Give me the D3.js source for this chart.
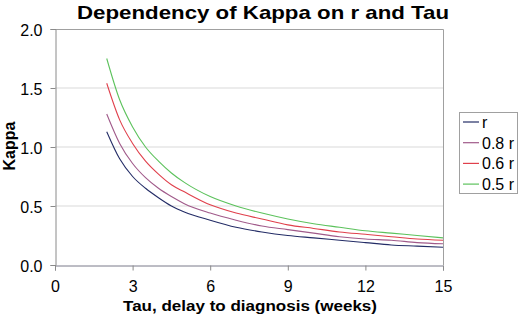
<!DOCTYPE html>
<html>
<head>
<meta charset="utf-8">
<script src="https://cdn.jsdelivr.net/npm/d3@7"></script>
<style>
  body { margin: 0; background: #fff; }
  text { font-family: "Liberation Sans", Arial, sans-serif; }
</style>
</head>
<body>
<div id="container"></div>
<script>
/* CONSTANTS AND GLOBALS */
const width = 518,
  height = 315,
  margin = { top: 29, bottom: 50, left: 55, right: 75 }

/* DATA */
const tau = [2, 2.5, 3, 3.5, 4, 4.5, 5, 6, 7, 8, 9, 10, 11, 12, 13, 14, 15]
const kappaR = [1.13, 0.90, 0.75, 0.65, 0.57, 0.50, 0.45, 0.38, 0.32, 0.28, 0.25, 0.23, 0.21, 0.19, 0.17, 0.16, 0.15]
const kappa08 = [1.28, 1.03, 0.86, 0.74, 0.65, 0.58, 0.52, 0.44, 0.38, 0.33, 0.30, 0.27, 0.24, 0.22, 0.21, 0.19, 0.18]
const kappa06 = [1.54, 1.23, 1.03, 0.88, 0.77, 0.68, 0.62, 0.51, 0.44, 0.39, 0.34, 0.31, 0.28, 0.26, 0.24, 0.22, 0.21]
const kappa05 = [1.75, 1.40, 1.17, 1.00, 0.88, 0.78, 0.70, 0.58, 0.50, 0.44, 0.39, 0.35, 0.32, 0.29, 0.27, 0.25, 0.23]
const seriesNames = ["r", "0.8 r", "0.6 r", "0.5 r"]
const xTicks = [0, 3, 6, 9, 12, 15]
const yTicks = [0, 0.5, 1.0, 1.5, 2.0]

const colors = ["#232c66", "#a05a8a", "#e0404c", "#5cc25c"]
const series = [kappaR, kappa08, kappa06, kappa05]

// SCALES
const xScale = d3.scaleLinear()
  .domain([0, 15])
  .range([margin.left, width - margin.right])

const yScale = d3.scaleLinear()
  .domain([0, 2])
  .range([height - margin.bottom, margin.top])

// SVG
const svg = d3.select("#container")
  .append("svg")
  .attr("width", width)
  .attr("height", height)

// gridlines
svg.append("g")
  .selectAll("line")
  .data(yTicks.filter(d => d > 0 && d < 2))
  .join("line")
  .attr("x1", margin.left)
  .attr("x2", width - margin.right)
  .attr("y1", d => yScale(d))
  .attr("y2", d => yScale(d))
  .attr("stroke", "#d9d9d9")
  .attr("stroke-width", 1)

// plot border (top + right)
svg.append("path")
  .attr("d", `M${margin.left},${yScale(2) + 0.5}H${xScale(15) + 0.5}V${yScale(0)}`)
  .attr("fill", "none")
  .attr("stroke", "#a0a0a0")

// AXES
const xAxis = d3.axisBottom(xScale)
  .tickValues(xTicks)
  .tickSize(5)
  .tickFormat(d3.format("d"))

svg.append("g")
  .attr("transform", `translate(0, ${yScale(0) + 0.5})`)
  .call(xAxis)
  .call(g => g.select(".domain").attr("stroke", "#7a7a8a"))
  .call(g => g.selectAll(".tick line").attr("stroke", "#8a8a8a"))
  .call(g => g.selectAll(".tick text")
    .attr("font-size", 16)
    .attr("font-family", "Liberation Sans, Arial, sans-serif")
    .attr("fill", "#000")
    .attr("y", 26.5)
    .attr("dy", null))

const yAxis = d3.axisLeft(yScale)
  .tickValues(yTicks)
  .tickSize(5)
  .tickFormat(d3.format(".1f"))

svg.append("g")
  .attr("transform", `translate(${margin.left + 0.5}, 0)`)
  .call(yAxis)
  .call(g => g.select(".domain").attr("stroke", "#8a8a8a"))
  .call(g => g.selectAll(".tick line").attr("stroke", "#8a8a8a"))
  .call(g => g.selectAll(".tick text")
    .attr("font-size", 16)
    .attr("font-family", "Liberation Sans, Arial, sans-serif")
    .attr("fill", "#000")
    .attr("x", -13)
    .attr("dy", "0.42em"))

// LINES
const lineGen = d3.line()
  .x((d, i) => xScale(tau[i]))
  .y(d => yScale(d))
  .curve(d3.curveMonotoneX)

svg.selectAll(".line")
  .data(series)
  .join("path")
  .attr("class", "line")
  .attr("fill", "none")
  .attr("stroke", (d, i) => colors[i])
  .attr("stroke-width", 1.1)
  .attr("d", d => lineGen(d))

// TITLES
svg.append("text")
  .attr("x", 263)
  .attr("y", 18.5)
  .attr("text-anchor", "middle")
  .attr("font-size", 19)
  .attr("font-weight", "bold")
  .attr("textLength", 372)
  .attr("lengthAdjust", "spacingAndGlyphs")
  .text("Dependency of Kappa on r and Tau")

svg.append("text")
  .attr("x", 250)
  .attr("y", 310.5)
  .attr("text-anchor", "middle")
  .attr("font-size", 15)
  .attr("font-weight", "bold")
  .attr("textLength", 254)
  .attr("lengthAdjust", "spacingAndGlyphs")
  .text("Tau, delay to diagnosis (weeks)")

svg.append("text")
  .attr("transform", "rotate(-90)")
  .attr("x", -146)
  .attr("y", 15)
  .attr("text-anchor", "middle")
  .attr("font-size", 16)
  .attr("font-weight", "bold")
  .text("Kappa")

// LEGEND
const legend = svg.append("g")
  .attr("transform", "translate(459, 112)")

legend.append("rect")
  .attr("x", 0.5)
  .attr("y", 0.5)
  .attr("width", 58)
  .attr("height", 81)
  .attr("fill", "#fff")
  .attr("stroke", "#a0a0a0")

const items = legend.selectAll(".item")
  .data(seriesNames)
  .join("g")
  .attr("class", "item")
  .attr("transform", (d, i) => `translate(0, ${10 + i * 20.7})`)

items.append("line")
  .attr("x1", 4)
  .attr("x2", 20)
  .attr("y1", 0)
  .attr("y2", 0)
  .attr("stroke", (d, i) => colors[i])
  .attr("stroke-width", 1.2)

items.append("text")
  .attr("x", 23)
  .attr("y", 6)
  .attr("font-size", 16)
  .text(d => d)
</script>
</body>
</html>
